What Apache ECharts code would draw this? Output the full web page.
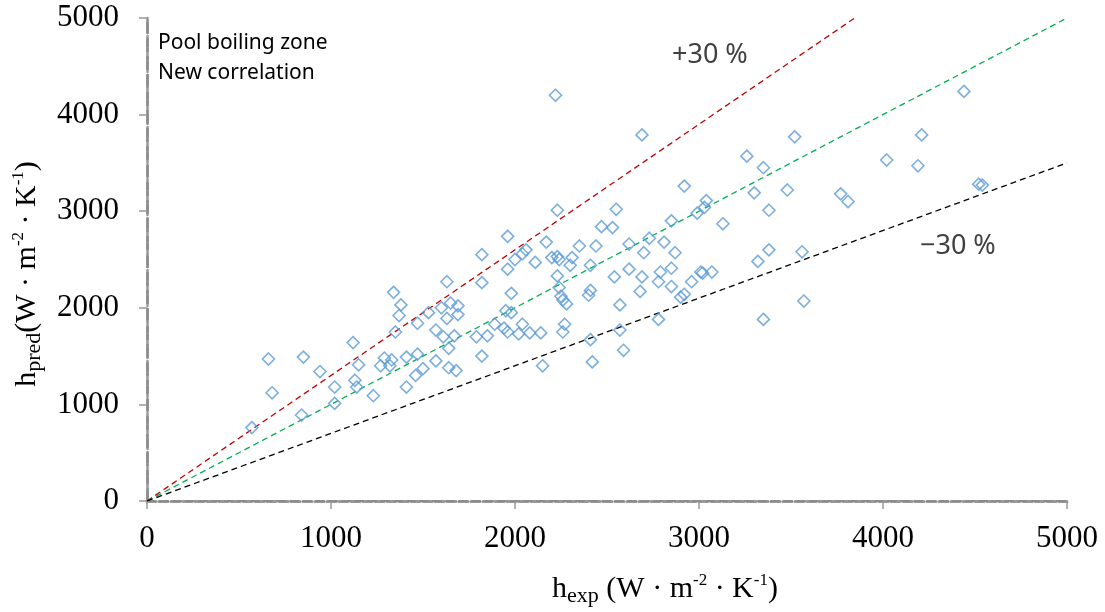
<!DOCTYPE html>
<html>
<head>
<meta charset="utf-8">
<script src="https://cdn.jsdelivr.net/npm/echarts@6/dist/echarts.min.js"></script>
<style>html,body{margin:0;padding:0;background:#fff}#c{width:1105px;height:612px}</style>
</head>
<body>
<div id="c"></div>
<script>
// experimental vs predicted heat transfer coefficient (W·m-2·K-1)
const hExp = [1340,1380,1370,1350,1470,1530,1570,1570,660,850,680,940,1120,1150,1130,1140,1020,1020,840,570,1230,1290,1270,1330,1320,1410,1470,1500,1460,1410,
  2220,2690,2920,2230,2550,2470,2530,2850,2990,1960,2170,1820,2060,2040,2000,1960,2110,2200,2230,2240,2310,2300,2350,2440,2410,2620,2730,2810,2700,2870,
  2620,2540,2690,2790,2850,2780,2850,2960,3010,1630,1820,2230,2240,1980,2410,2400,2680,2900,2920,2250,2260,2280,2570,1600,1650,1690,1690,1630,1610,1670,
  1640,1640,1680,1790,1850,1890,1950,1980,1940,1960,2020,2040,2080,2140,1820,2150,2270,2260,2410,2420,2570,2590,2780,
  4440,4210,3520,3260,3350,4020,4190,3300,3480,3770,3810,3040,3030,3380,3130,4520,4540,3380,3320,3560,3020,3070,3570,3350];
const hPred = [2160,2030,1920,1750,1840,1950,1770,1450,1470,1490,1120,1340,1640,1410,1250,1180,1180,1010,890,760,1090,1480,1400,1460,1400,1490,1520,1370,1300,1180,
  4200,3790,3260,3010,3020,2840,2830,2900,2980,2740,2680,2550,2600,2560,2500,2400,2470,2520,2530,2500,2520,2440,2640,2640,2440,2660,2720,2680,2570,2570,
  2400,2320,2320,2370,2410,2270,2220,2270,2370,2270,2260,2330,2210,2150,2180,2130,2170,2110,2140,2120,2080,2040,2030,2000,2050,2020,1930,1890,1700,1710,
  1580,1380,1350,1700,1710,1830,1970,1950,1790,1750,1730,1830,1740,1740,1500,1400,1830,1750,1670,1440,1770,1560,1880,
  4240,3790,3770,3570,3450,3530,3470,3190,3220,3180,3100,3110,3040,3010,2870,3280,3270,2600,2480,2580,2360,2370,2070,1880];
// reference lines: hPred = k * hExp
const ratioPlus = 1.3, ratioOne = 1.0, ratioMinus = 0.7;
const axisMax = 5000, axisStep = 1000;
const noteLines = ['Pool boiling zone', 'New correlation'];
const plusLabel = '+30 %', minusLabel = '\u221230 %';
const xTitle = '{b|h}{sub|exp}{b| (W · m}{sup|-2}{b| · K}{sup|-1}{b|)}';
const yTitle = '{b|h}{sub|pred}{b|(W · m}{sup|-2}{b| · K}{sup|-1}{b|)}';

function refLine(k) {
  const xEnd = Math.min(axisMax, axisMax / k);
  return [[0, 0], [xEnd, xEnd * k]];
}

const serif = '"Liberation Serif", "Times New Roman", serif';
const rich = {
  b: { fontFamily: serif, fontSize: 30, fill: '#000', color: '#000' },
  sub: { fontFamily: serif, fontSize: 22, fill: '#000', color: '#000', padding: [15, 0, 0, 0] },
  sup: { fontFamily: serif, fontSize: 17, fill: '#000', color: '#000', padding: [0, 0, 16, 0] }
};

const chart = echarts.init(document.getElementById('c'), null, { renderer: 'canvas' });
const gray = '#999999';
const option = {
  animation: false,
  grid: { left: 147, right: 38, top: 18, bottom: 111, containLabel: false },
  xAxis: [{
    type: 'value', min: 0, max: axisMax, interval: axisStep,
    axisLine: { show: true, lineStyle: { color: gray, type: [9, 3], width: 3 } },
    axisTick: { show: true, inside: false, length: 8, lineStyle: { color: gray, width: 1.5 } },
    axisLabel: { fontFamily: serif, fontSize: 31, color: '#000', margin: 22, formatter: v => String(v) },
    splitLine: { show: false }
  }, {
    type: 'value', position: 'top', min: 0, max: axisMax, interval: axisStep,
    axisLine: { show: true, lineStyle: { color: '#8c8c8c', type: [8, 5], width: 2 } },
    axisTick: { show: false }, axisLabel: { show: false }, splitLine: { show: false }
  }],
  yAxis: [{
    type: 'value', min: 0, max: axisMax, interval: axisStep,
    axisLine: { show: true, lineStyle: { color: gray, type: [10, 3], width: 2.5 } },
    axisTick: { show: true, inside: false, length: 8, lineStyle: { color: gray, width: 1.5 } },
    axisLabel: { fontFamily: serif, fontSize: 31, color: '#000', margin: 28, formatter: v => String(v) },
    splitLine: { show: false }
  }, {
    type: 'value', position: 'right', min: 0, max: axisMax, interval: axisStep,
    axisLine: { show: true, lineStyle: { color: '#8c8c8c', type: [12, 6], width: 2.5 } },
    axisTick: { show: false }, axisLabel: { show: false }, splitLine: { show: false }
  }],
  series: [
    { type: 'line', data: refLine(ratioPlus), symbol: 'none', lineStyle: { color: '#c00000', type: [6, 4], width: 1.3 }, z: 2 },
    { type: 'line', data: refLine(ratioOne), symbol: 'none', lineStyle: { color: '#00b050', type: [6, 4], width: 1.3 }, z: 2 },
    { type: 'line', data: refLine(ratioMinus), symbol: 'none', lineStyle: { color: '#000000', type: [6, 4], width: 1.3 }, z: 2 },
    {
      type: 'scatter', symbol: 'diamond', symbolSize: 12,
      data: hExp.map((x, i) => [x, hPred[i]]),
      itemStyle: { color: 'rgba(255,255,255,0)', borderColor: '#5b9bd5', borderWidth: 1.6 },
      z: 3
    }
  ],
  graphic: [
    { type: 'text', x: 158, y: 43, style: { text: noteLines[0], font: '21px "Noto Sans"', fill: '#000', align: 'left', verticalAlign: 'middle' } },
    { type: 'text', x: 158, y: 73, style: { text: noteLines[1], font: '21px "Noto Sans"', fill: '#000', align: 'left', verticalAlign: 'middle' } },
    { type: 'text', x: 672, y: 55, style: { text: plusLabel, font: '27px "Noto Sans"', fill: '#404040', align: 'left', verticalAlign: 'middle' } },
    { type: 'text', x: 920, y: 246, style: { text: minusLabel, font: '27px "Noto Sans"', fill: '#404040', align: 'left', verticalAlign: 'middle' } },
    { type: 'text', x: 665, y: 589, style: { text: xTitle, rich: rich, align: 'center', verticalAlign: 'middle' } },
    { type: 'text', x: 27, y: 274, rotation: Math.PI / 2, style: { text: yTitle, rich: rich, align: 'center', verticalAlign: 'middle' } }
  ]
};
chart.setOption(option);
</script>
</body>
</html>
